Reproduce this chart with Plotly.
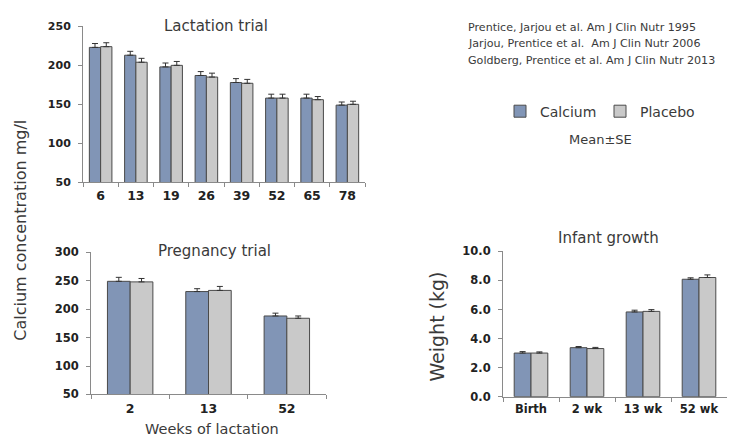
import plotly.graph_objects as go

W, H = 730, 445

# ---- data ----
lact_weeks = ["6", "13", "19", "26", "39", "52", "65", "78"]
lact_calcium = [223, 213, 198, 187, 178, 158, 158, 149]
lact_placebo = [224, 204, 200, 185, 177, 158, 156, 150]
lact_calcium_se = [5, 5, 5, 5, 5, 5, 5, 4]
lact_placebo_se = [5, 5, 5, 5, 5, 5, 4, 4]

preg_weeks = ["2", "13", "52"]
preg_calcium = [249, 231, 188]
preg_placebo = [248, 233, 184]
preg_calcium_se = [7, 5, 5]
preg_placebo_se = [6, 7, 4]

infant_age = ["Birth", "2 wk", "13 wk", "52 wk"]
infant_calcium = [3.0, 3.37, 5.83, 8.08]
infant_placebo = [3.0, 3.31, 5.87, 8.2]
infant_calcium_se = [0.1, 0.08, 0.12, 0.1]
infant_placebo_se = [0.08, 0.08, 0.12, 0.18]

citations = [
    "Prentice, Jarjou et al. Am J Clin Nutr 1995",
    "Jarjou, Prentice et al.  Am J Clin Nutr 2006",
    "Goldberg, Prentice et al. Am J Clin Nutr 2013",
]

CA_COLOR = "#8195b6"
PL_COLOR = "#c9c9c9"
OUTLINE = "#4a4a4a"
FONT = "DejaVu Sans"
TXT = "#3a3a3a"


def px(x):
    return x / W


def py(y):
    return 1 - y / H


fig = go.Figure()


def add_pair(x, ca, pl, ca_se, pl_se, xa, ya, w, show):
    for name, vals, se, col, off in [
        ("Calcium", ca, ca_se, CA_COLOR, -w),
        ("Placebo", pl, pl_se, PL_COLOR, 0),
    ]:
        fig.add_trace(go.Bar(
            x=x, y=vals, name=name, xaxis=xa, yaxis=ya,
            width=w, offset=off,
            marker=dict(color=col, line=dict(color=OUTLINE, width=1)),
            error_y=dict(type="data", array=se, arrayminus=[0] * len(se),
                         symmetric=False, color="#333333", thickness=1, width=3),
            showlegend=show, legendgroup=name,
        ))


add_pair(lact_weeks, lact_calcium, lact_placebo, lact_calcium_se, lact_placebo_se,
         "x", "y", 0.32, True)
add_pair(preg_weeks, preg_calcium, preg_placebo, preg_calcium_se, preg_placebo_se,
         "x2", "y2", 0.29, False)
add_pair(infant_age, infant_calcium, infant_placebo, infant_calcium_se, infant_placebo_se,
         "x3", "y3", 0.30, False)

axis_common = dict(showgrid=False, zeroline=False, showline=True, linecolor="#8a8a8a",
                   linewidth=1, ticks="outside", ticklen=4, tickcolor="#8a8a8a",
                   fixedrange=True)

fig.update_layout(
    width=W, height=H,
    margin=dict(l=0, r=0, t=0, b=0),
    paper_bgcolor="white", plot_bgcolor="white",
    barmode="overlay",
    font=dict(family=FONT, color=TXT),
    xaxis=dict(domain=[px(83), px(365)], anchor="y", type="category",
               tickson="boundaries", range=[-0.5, len(lact_weeks) - 0.5],
               ticklabelstandoff=2,
               tickfont=dict(family=FONT, size=12.5, color="#222", weight="bold"),
               **axis_common),
    yaxis=dict(domain=[py(181), py(20)], anchor="x", range=[50, 250],
               tickvals=[50, 100, 150, 200, 250], ticklabelstandoff=5,
               tickfont=dict(family=FONT, size=11, color="#222", weight="bold"),
               **axis_common),
    xaxis2=dict(domain=[px(91), px(326)], anchor="y2", type="category",
                tickson="boundaries", range=[-0.5, len(preg_weeks) - 0.5],
                ticklabelstandoff=3,
                tickfont=dict(family=FONT, size=12.5, color="#222", weight="bold"),
                **axis_common),
    yaxis2=dict(domain=[py(400), py(253.3)], anchor="x2", range=[50, 300],
                tickvals=[50, 100, 150, 200, 250, 300], ticklabelstandoff=5,
                tickfont=dict(family=FONT, size=11.5, color="#222", weight="bold"),
                **axis_common),
    xaxis3=dict(domain=[px(503), px(727)], anchor="y3", type="category",
                tickson="boundaries", range=[-0.5, len(infant_age) - 0.5],
                ticklabelstandoff=2,
                tickfont=dict(family=FONT, size=11.5, color="#222", weight="bold"),
                **axis_common),
    yaxis3=dict(domain=[py(402.3), py(252.3)], anchor="x3", range=[0, 10],
                tickvals=[0, 2, 4, 6, 8, 10], tickformat=".1f", ticklabelstandoff=5,
                tickfont=dict(family=FONT, size=11.5, color="#222", weight="bold"),
                **axis_common),
    legend=dict(orientation="h", x=px(500), y=py(108), xanchor="left", yanchor="middle",
                font=dict(family=FONT, size=14, color=TXT),
                entrywidth=55, entrywidthmode="pixels",
                bgcolor="rgba(0,0,0,0)", itemwidth=30, traceorder="normal"),
)

annots = [
    dict(text="Lactation trial", x=px(216), y=py(20), size=15),
    dict(text="Pregnancy trial", x=px(214), y=py(252), size=15),
    dict(text="Infant growth", x=px(608), y=py(238), size=15),
    dict(text="Weeks of lactation", x=px(212), y=py(436), size=14.5),
    dict(text="Mean±SE", x=px(600), y=py(137), size=13),
]
for a in annots:
    fig.add_annotation(text=a["text"], x=a["x"], y=a["y"], xref="paper", yref="paper",
                       xanchor="center", yanchor="middle", showarrow=False,
                       font=dict(family=FONT, size=a["size"], color=TXT))

fig.add_annotation(text="Calcium concentration mg/l", x=px(21), y=py(231),
                   xref="paper", yref="paper", textangle=-90, showarrow=False,
                   xanchor="center", yanchor="middle",
                   font=dict(family=FONT, size=16, color=TXT))
fig.add_annotation(text="Weight (kg)", x=px(437), y=py(330),
                   xref="paper", yref="paper", textangle=-90, showarrow=False,
                   xanchor="center", yanchor="middle",
                   font=dict(family=FONT, size=19, color=TXT))

for i, line in enumerate(citations):
    fig.add_annotation(text=line, x=px(466), y=py(21 + 17 * i), xref="paper", yref="paper",
                       xanchor="left", yanchor="middle", showarrow=False,
                       font=dict(family=FONT, size=11.1, color=TXT))

fig.write_html("out.html", config={"displayModeBar": False},
               post_script="document.body.style.margin='0';")
